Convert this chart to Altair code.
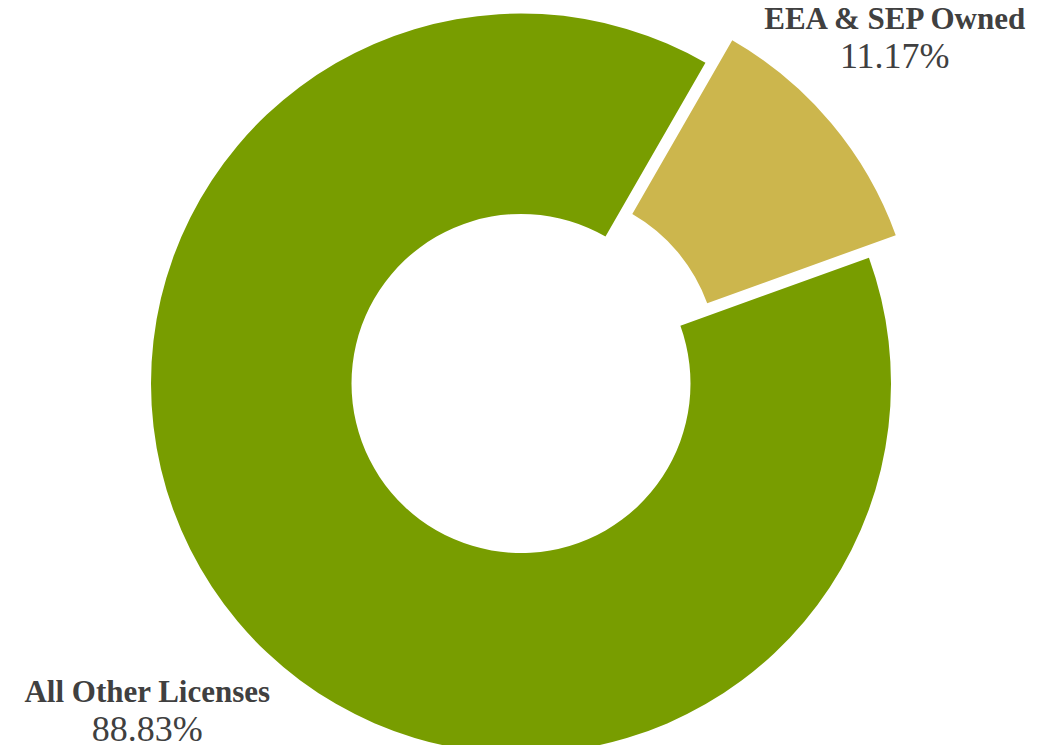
import math
import altair as alt
import pandas as pd

categories = ["EEA & SEP Owned", "All Other Licenses"]
values = [11.17, 88.83]
value_labels = ["11.17%", "88.83%"]
colors = ["#CCB64D", "#789D00"]
order = [0, 1]

df = pd.DataFrame({
    "category": categories,
    "value": values,
    "label": value_labels,
    "order": order,
})

START = math.radians(29.9)
CX, CY = 513, 375.5
EXPLODE = 35
MID_GOLD = math.radians(50)
GX = CX + EXPLODE * math.sin(MID_GOLD)
GY = CY - EXPLODE * math.cos(MID_GOLD)

theta_scale = alt.Scale(domain=[0, 100], range=[START, START + 2 * math.pi])
color_scale = alt.Scale(domain=categories, range=colors)

base = alt.Chart(df).transform_stack(
    stack="value", groupby=[], as_=["start", "end"], sort=[alt.SortField("order")]
).transform_calculate(
    mid="(datum.start + datum.end) / 2 - 0.56"
)

green = base.transform_filter(alt.datum.category == categories[1]).mark_arc(
    outerRadius=370, innerRadius=169.5
).encode(
    theta=alt.Theta("start:Q", scale=theta_scale),
    theta2="end:Q",
    color=alt.Color("category:N", scale=color_scale, legend=None),
    x=alt.value(CX), y=alt.value(CY),
)

gold = base.transform_filter(alt.datum.category == categories[0]).mark_arc(
    outerRadius=370, innerRadius=169.5
).encode(
    theta=alt.Theta("start:Q", scale=theta_scale),
    theta2="end:Q",
    color=alt.Color("category:N", scale=color_scale, legend=None),
    x=alt.value(GX), y=alt.value(GY),
)

names = base.mark_text(
    radius=503, font="Liberation Serif", fontWeight="bold", fontSize=31,
    color="#404040", align="center", baseline="alphabetic", dy=-18,
).encode(
    theta=alt.Theta("mid:Q", scale=theta_scale),
    text="category:N",
    x=alt.value(CX), y=alt.value(CY),
)

pcts = base.mark_text(
    radius=503, font="Liberation Serif", fontSize=36,
    color="#404040", align="center", baseline="alphabetic", dy=21,
).encode(
    theta=alt.Theta("mid:Q", scale=theta_scale),
    text="label:N",
    x=alt.value(CX), y=alt.value(CY),
)

chart = alt.layer(green, gold, names, pcts).properties(
    width=1045, height=737, padding=0,
    autosize=alt.AutoSizeParams(type="none"),
).configure_view(stroke=None)

chart.save("out.html", embed_options={"renderer": "svg", "actions": False})
